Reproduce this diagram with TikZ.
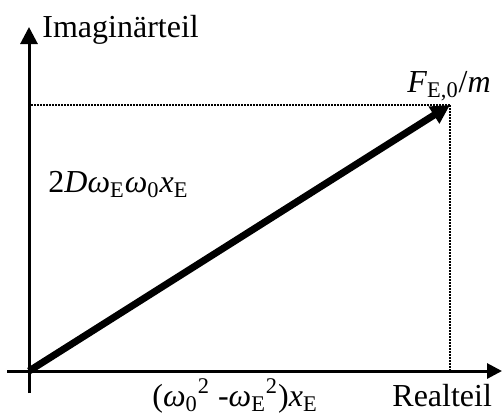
\documentclass[tikz,border=0pt]{standalone}
\usepackage{fontspec}
\setmainfont{Liberation Serif}
\usepackage{tikz}
\usetikzlibrary{arrows.meta}

\begin{document}
\begin{tikzpicture}[x=0.5pt,y=-0.5pt,
    achse/.style={line width=1.5pt},
    hilfslinie/.style={line width=1.2pt,dash pattern=on 0.9pt off 0.6pt},
    zeiger/.style={line width=3.5pt,-{Triangle[length=9.5pt,width=9.5pt]}},
    beschriftung/.style={font=\fontsize{16}{19}\selectfont,inner sep=0pt,anchor=base west}]

  \useasboundingbox (0,0) rectangle (502,413);

  % ---------- Koordinaten ----------
  \coordinate (O)  at (29,371);
  \coordinate (xa) at (7,371);
  \coordinate (xb) at (502,371);
  \coordinate (ya) at (29,393);
  \coordinate (yb) at (29,27);
  \coordinate (P)  at (450,105);
  \coordinate (Px) at (450,371);
  \coordinate (Py) at (29,105);

  % ---------- Achsen ----------
  \draw[achse,-{Triangle[length=7.5pt,width=7.5pt]}] (xa) -- (xb);
  \draw[achse,-{Triangle[length=8.5pt,width=8.5pt]}] (ya) -- (yb);

  % ---------- Projektionen und Zeiger ----------
  \draw[hilfslinie] (P) -- (Py);
  \draw[hilfslinie] (P) -- (Px);
  \draw[zeiger] (O) -- (P);

  % ---------- Beschriftungen ----------
  \node[beschriftung] (imag)   at (42,37)   {Imaginärteil};
  \node[beschriftung] (kraft)  at (407,92)  {\textit{F}\textsubscript{E,0}/\textit{m}};
  \node[beschriftung] (imteil) at (48,192)  {2\textit{D}\textit{ω}\textsubscript{E}\textit{ω}\textsubscript{0}\textit{x}\textsubscript{E}};
  \node[beschriftung] (reteil) at (152,406) {(\textit{ω}\textsubscript{0}\textsuperscript{2} -\textit{ω}\textsubscript{E}\textsuperscript{2})\textit{x}\textsubscript{E}};
  \node[beschriftung] (real)   at (392,406) {Realteil};

\end{tikzpicture}
\end{document}
